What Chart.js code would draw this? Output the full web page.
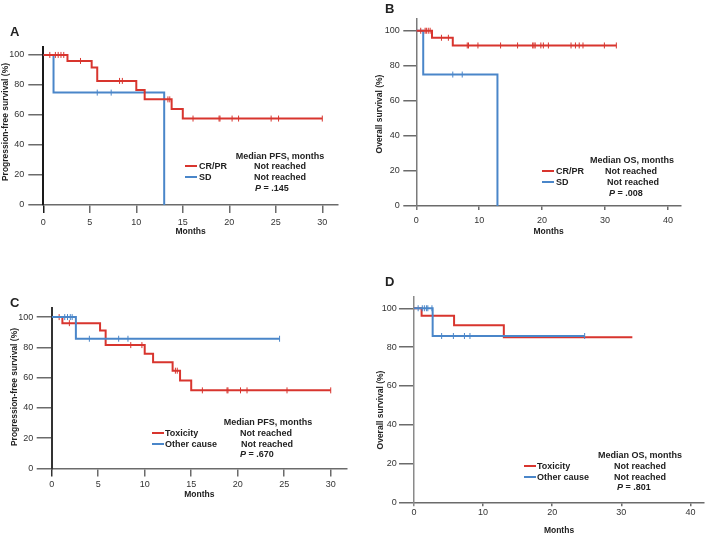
<!DOCTYPE html>
<html>
<head>
<meta charset="utf-8">
<script src="https://cdn.jsdelivr.net/npm/chart.js@4.4.1/dist/chart.umd.min.js"></script>
<style>
  body { margin: 0; background: #fff; width: 709px; height: 537px; position: relative; overflow: hidden;
         font-family: "Liberation Sans", Arial, sans-serif; color: #222; }
  canvas { position: absolute; }
  .t { position: absolute; font-size: 9px; font-weight: bold; white-space: nowrap; line-height: 1; transform: translateY(-50%); }
  .c { transform: translate(-50%, -50%); }
  .k { position: absolute; height: 2px; width: 12px; }
  .p { position: absolute; font-size: 13px; font-weight: bold; line-height: 1; }
  .yt { position: absolute; font-size: 8.5px; font-weight: bold; white-space: nowrap; line-height: 1;
        transform: translate(-50%, -50%) rotate(-90deg); }
</style>
</head>
<body>

<canvas id="chartA" width="354" height="250" style="left:0;top:0"></canvas>
<canvas id="chartB" width="355" height="250" style="left:354px;top:0"></canvas>
<canvas id="chartC" width="354" height="267" style="left:0;top:270px"></canvas>
<canvas id="chartD" width="355" height="267" style="left:354px;top:270px"></canvas>

<!-- panel letters -->
<div class="p" style="left:10px;top:25px">A</div>
<div class="p" style="left:385px;top:2px">B</div>
<div class="p" style="left:10px;top:296px">C</div>
<div class="p" style="left:385px;top:275px">D</div>

<!-- y axis titles -->
<div class="yt" style="left:5px;top:122px">Progression-free survival (%)</div>
<div class="yt" style="left:379px;top:114px">Overall survival (%)</div>
<div class="yt" style="left:13.5px;top:387px">Progression-free survival (%)</div>
<div class="yt" style="left:379.5px;top:410px">Overall survival (%)</div>

<!-- legend A -->
<div class="t c" style="left:280px;top:156px">Median PFS, months</div>
<div class="k" style="left:185px;top:165px;background:#d8352e"></div>
<div class="t" style="left:199px;top:166px">CR/PR</div>
<div class="t c" style="left:280px;top:166px">Not reached</div>
<div class="k" style="left:185px;top:176px;background:#4a86c9"></div>
<div class="t" style="left:199px;top:177px">SD</div>
<div class="t c" style="left:280px;top:177px">Not reached</div>
<div class="t" style="left:255px;top:188px"><i>P</i> = .145</div>

<!-- legend B -->
<div class="t c" style="left:632px;top:160px">Median OS, months</div>
<div class="k" style="left:542px;top:170px;background:#d8352e"></div>
<div class="t" style="left:556px;top:171px">CR/PR</div>
<div class="t c" style="left:631px;top:171px">Not reached</div>
<div class="k" style="left:542px;top:181px;background:#4a86c9"></div>
<div class="t" style="left:556px;top:182px">SD</div>
<div class="t c" style="left:633px;top:182px">Not reached</div>
<div class="t" style="left:609px;top:193px"><i>P</i> = .008</div>

<!-- legend C -->
<div class="t c" style="left:268px;top:422px">Median PFS, months</div>
<div class="k" style="left:152px;top:432px;background:#d8352e"></div>
<div class="t" style="left:165px;top:433px">Toxicity</div>
<div class="t c" style="left:266px;top:433px">Not reached</div>
<div class="k" style="left:152px;top:443px;background:#4a86c9"></div>
<div class="t" style="left:165px;top:444px">Other cause</div>
<div class="t c" style="left:267px;top:444px">Not reached</div>
<div class="t" style="left:240px;top:454px"><i>P</i> = .670</div>

<!-- legend D -->
<div class="t c" style="left:640px;top:455px">Median OS, months</div>
<div class="k" style="left:524px;top:465px;background:#d8352e"></div>
<div class="t" style="left:537px;top:466px">Toxicity</div>
<div class="t c" style="left:640px;top:466px">Not reached</div>
<div class="k" style="left:524px;top:476px;background:#4a86c9"></div>
<div class="t" style="left:537px;top:477px">Other cause</div>
<div class="t c" style="left:640px;top:477px">Not reached</div>
<div class="t" style="left:617px;top:487px"><i>P</i> = .801</div>

<script>
// tick labels
const xTicks30 = [0, 5, 10, 15, 20, 25, 30];
const xTicks40 = [0, 10, 20, 30, 40];
const yTicks = [0, 20, 40, 60, 80, 100];

// A: PFS, CR/PR vs SD
const aRedT = [0, 2.6, 5.2, 5.8, 10.0, 10.9, 13.8, 15.0, 30.0];
const aRedS = [100, 96, 91.6, 82.7, 76.7, 70.4, 64, 57.6, 57.6];
const aRedCens = [0.7, 1.3, 1.6, 1.9, 2.2, 4.0, 8.2, 8.5, 13.4, 13.6, 16.1, 18.9, 19.0, 20.3, 21.0, 24.5, 25.3, 30.0];
const aBlueT = [0, 1.1, 13.0];
const aBlueS = [100, 74.9, 0];
const aBlueCens = [5.8, 7.3];

// B: OS, CR/PR vs SD
const bRedT = [0, 2.5, 5.8, 31.8];
const bRedS = [100, 96, 91.6, 91.6];
const bRedCens = [0.7, 1.4, 1.6, 1.9, 2.2, 4.0, 5.1, 8.1, 8.3, 9.8, 13.4, 16.1, 18.5, 18.7, 18.9, 19.8, 20.2, 21.0, 24.6, 25.3, 25.9, 26.5, 29.9, 31.8];
const bBlueT = [0, 1.1, 12.9];
const bBlueS = [100, 75, 0];
const bBlueCens = [5.8, 7.3];

// C: PFS, toxicity vs other cause
const cRedT = [0, 1.15, 5.2, 5.8, 10.0, 10.9, 13.0, 13.8, 15.0, 30.0];
const cRedS = [100, 96, 91.2, 81.5, 75.8, 70.1, 64.6, 58.2, 51.6, 51.6];
const cRedCens = [0.8, 1.9, 8.5, 9.7, 13.3, 13.5, 16.2, 18.85, 18.95, 20.3, 21.0, 25.3, 30.0];
const cBlueT = [0, 2.6, 24.5];
const cBlueS = [100, 85.7, 85.7];
const cBlueCens = [1.4, 1.7, 2.0, 2.2, 4.05, 7.2, 8.2, 24.5];

// D: OS, toxicity vs other cause
const dRedT = [0, 1.1, 5.8, 13.0, 31.6];
const dRedS = [100, 96.2, 91.2, 85, 85];
const dRedCens = [];
const dBlueT = [0, 2.7, 24.7];
const dBlueS = [100, 85.7, 85.7];
const dBlueCens = [0.6, 1.2, 1.5, 1.8, 2.0, 2.6, 4.0, 5.7, 7.3, 8.1, 24.7];

const RED = '#d8352e';
const BLUE = '#4a86c9';

Chart.defaults.font.family = "'Liberation Sans', Arial, sans-serif";
Chart.defaults.color = '#333';

function survAt(t, s, x) {
    let v = s[0];
    for (let i = 0; i < t.length; i++) if (t[i] <= x) v = s[i];
    return v;
}

function curve(t, s, color) {
    return {
        showLine: true, stepped: true,
        data: t.map((x, i) => ({ x: x, y: s[i] })),
        borderColor: color, borderWidth: 2, pointRadius: 0, fill: false
    };
}

function marks(c, t, s, color) {
    return {
        showLine: false,
        data: c.map(x => ({ x: x, y: survAt(t, s, x) })),
        borderColor: color, pointBorderColor: color, pointStyle: 'line',
        pointRotation: 90, pointRadius: 3, pointBorderWidth: 1
    };
}

function panel(id, p) {
    new Chart(document.getElementById(id), {
        type: 'scatter',
        data: { datasets: p.datasets },
        options: {
            responsive: false, animation: false, events: [],
            layout: { padding: { left: 0, right: p.padR, top: p.padT, bottom: 0 } },
            plugins: { legend: { display: false }, tooltip: { enabled: false } },
            scales: {
                x: {
                    type: 'linear', min: 0, max: p.xMax,
                    afterFit: s => { s.height = p.hx; },
                    afterBuildTicks: s => { s.ticks = p.xTicks.map(v => ({ value: v })); },
                    border: { color: '#6b6b6b', width: 1.5 },
                    grid: {
                        drawOnChartArea: false, tickLength: p.xTickLen, lineWidth: 1.5,
                        color: ctx => (ctx.tick && ctx.tick.value === 0) ? p.yColor : '#6b6b6b'
                    },
                    ticks: { font: { size: 9 }, color: '#333', padding: p.xTickPad, maxRotation: 0 },
                    title: { display: true, text: 'Months', font: { size: 8.5, weight: 'bold' }, color: '#222',
                             padding: { top: 0, bottom: p.xTitlePad } }
                },
                y: {
                    type: 'linear', min: 0, max: p.yMax,
                    afterFit: s => { s.width = p.wy; },
                    afterBuildTicks: s => { s.ticks = yTicks.map(v => ({ value: v })); },
                    border: { color: p.yColor, width: p.yWidth },
                    grid: { drawOnChartArea: false, tickLength: p.yTickLen, lineWidth: 1.5, color: '#6b6b6b' },
                    ticks: { font: { size: 9 }, color: '#333', padding: p.yTickPad }
                }
            }
        }
    });
}

panel('chartA', {
    xMax: 31.69, yMax: 105.5, padR: 16, padT: 46.7, wy: 43.3, hx: 45,
    xTicks: xTicks30, xTickLen: 8, xTickPad: 4, xTitlePad: 12.9,
    yTickLen: 15, yTickPad: 4, yColor: '#1a1a1a', yWidth: 2,
    datasets: [curve(aRedT, aRedS, RED), marks(aRedCens, aRedT, aRedS, RED),
               curve(aBlueT, aBlueS, BLUE), marks(aBlueCens, aBlueT, aBlueS, BLUE)]
});

panel('chartB', {
    xMax: 42.08, yMax: 106.7, padR: 28, padT: 19, wy: 62.3, hx: 44,
    xTicks: xTicks40, xTickLen: 4, xTickPad: 5, xTitlePad: 12.9,
    yTickLen: 13, yTickPad: 3.6, yColor: '#7a7a7a', yWidth: 1.5,
    datasets: [curve(bRedT, bRedS, RED), marks(bRedCens, bRedT, bRedS, RED),
               curve(bBlueT, bBlueS, BLUE), marks(bBlueCens, bBlueT, bBlueS, BLUE)]
});

panel('chartC', {
    xMax: 31.75, yMax: 106, padR: 7, padT: 38, wy: 51.7, hx: 68.5,
    xTicks: xTicks30, xTickLen: 8, xTickPad: 3, xTitlePad: 36.9,
    yTickLen: 15, yTickPad: 3.5, yColor: '#333', yWidth: 2,
    datasets: [curve(cBlueT, cBlueS, BLUE), marks(cBlueCens, cBlueT, cBlueS, BLUE),
               curve(cRedT, cRedS, RED), marks(cRedCens, cRedT, cRedS, RED)]
});

panel('chartD', {
    xMax: 41.97, yMax: 105.8, padR: 2, padT: 27, wy: 60, hx: 34.7,
    xTicks: xTicks40, xTickLen: 4, xTickPad: 1, xTitlePad: 0.9,
    yTickLen: 15, yTickPad: 2.3, yColor: '#8a8a8a', yWidth: 1.5,
    datasets: [curve(dBlueT, dBlueS, BLUE), marks(dBlueCens, dBlueT, dBlueS, BLUE),
               curve(dRedT, dRedS, RED), marks(dRedCens, dRedT, dRedS, RED)]
});
</script>
</body>
</html>
